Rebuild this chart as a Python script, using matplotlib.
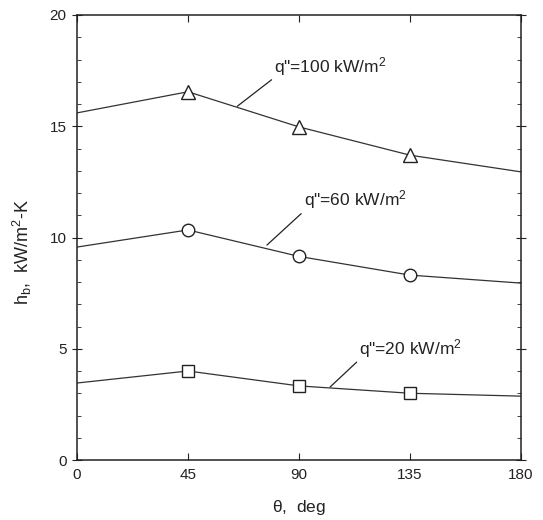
import matplotlib.pyplot as plt
from matplotlib.ticker import MultipleLocator

plt.rcParams['mathtext.default'] = 'regular'
plt.rcParams['font.family'] = 'Liberation Sans'

# angle positions (deg) and heat transfer coefficient (kW/m2-K)
theta = [0, 45, 90, 135, 180]
h_100 = [15.6, 16.55, 14.97, 13.7, 12.95]
h_60 = [9.57, 10.34, 9.15, 8.31, 7.95]
h_20 = [3.46, 4.0, 3.33, 3.0, 2.87]

labels = ['q"=100 kW/m$^2$', 'q"=60 kW/m$^2$', 'q"=20 kW/m$^2$']

ink = '#222222'

fig = plt.figure(figsize=(5.43, 5.20), dpi=100)
ax = fig.add_axes([77 / 543, 1 - 460 / 520, 444 / 543, 445 / 520])

# end points sit on the frame, so only inner points get a marker
style = dict(color='#333333', lw=0.9, mfc='white', mec='#222222', mew=1.0,
             markevery=[1, 2, 3])
ax.plot(theta, h_100, marker='^', ms=10, **style)
ax.plot(theta, h_60, marker='o', ms=9, **style)
ax.plot(theta, h_20, marker='s', ms=8, **style)

arrow = dict(arrowstyle='-', color=ink, lw=0.9, shrinkA=0, shrinkB=0, relpos=(0, 0))
ax.annotate(labels[0], xy=(65, 15.9), xytext=(80, 17.7), fontsize=12.5, color=ink,
            va='center', ha='left', arrowprops=arrow)
ax.annotate(labels[1], xy=(77, 9.66), xytext=(92, 11.7), fontsize=12.5, color=ink,
            va='center', ha='left', arrowprops=arrow)
ax.annotate(labels[2], xy=(102.6, 3.28), xytext=(114.5, 5.03), fontsize=12.5, color=ink,
            va='center', ha='left', arrowprops=arrow)

ax.set_xlim(0, 180)
ax.set_ylim(0, 20)
ax.set_xticks([0, 45, 90, 135, 180])
ax.yaxis.set_major_locator(MultipleLocator(5))
ax.yaxis.set_minor_locator(MultipleLocator(1))

ax.tick_params(axis='both', which='both', top=True, right=True, colors=ink,
               labelsize=11, labelcolor=ink)
ax.tick_params(axis='x', which='major', direction='in', length=5, pad=6)
ax.tick_params(axis='y', which='major', direction='inout', length=7, pad=4)
ax.tick_params(axis='y', which='minor', direction='in', length=3)
for s in ax.spines.values():
    s.set_color(ink)
    s.set_linewidth(1.1)

ax.set_xlabel(r'$\theta$,  deg', fontsize=12.5, color=ink)
ax.set_ylabel(r'h$_b$,  kW/m$^2$-K', fontsize=13, color=ink)
ax.xaxis.set_label_coords(0.499, -0.085)
ax.yaxis.set_label_coords(-0.097, 0.467)

fig.savefig('out.png', dpi=100)
